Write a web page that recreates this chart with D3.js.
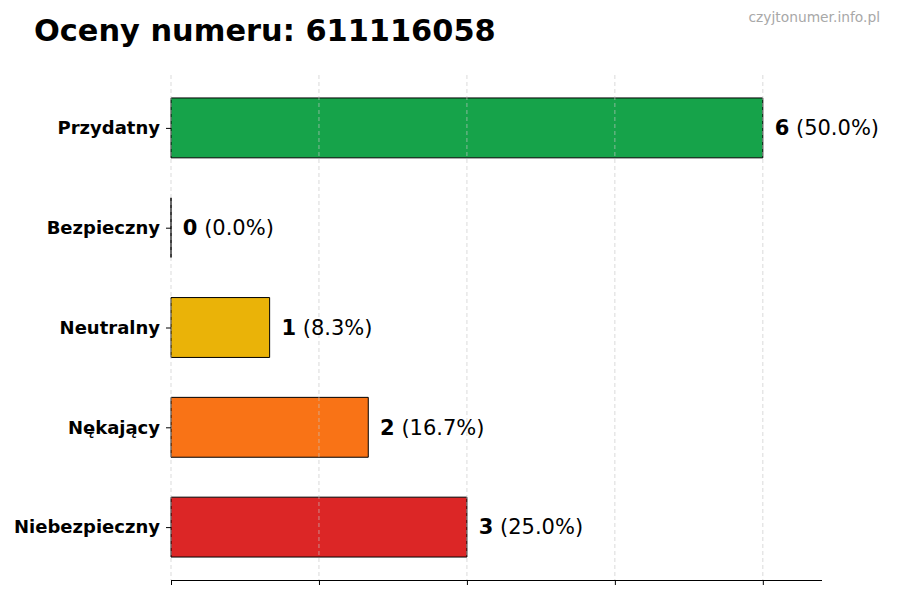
<!DOCTYPE html>
<html>
<head>
<meta charset="utf-8">
<script src="https://cdn.jsdelivr.net/npm/d3@7"></script>
<style>
  body { margin: 0; background: #fff; }
  svg { font-family: "DejaVu Sans", sans-serif; }
</style>
</head>
<body>
<svg id="chart" width="900" height="600"></svg>
<script>
// Chart data
const categories = ["Niebezpieczny", "Nękający", "Neutralny", "Bezpieczny", "Przydatny"];
const counts = [3, 2, 1, 0, 6];
const percents = ["25.0%", "16.7%", "8.3%", "0.0%", "50.0%"];
const barColors = ["#dc2626", "#f97316", "#eab308", "#9ca3af", "#16a34a"];
const xTicks = [0, 1.5, 3, 4.5, 6];

const svg = d3.select("#chart");

// Plot area
const plot = { left: 171, right: 822, top: 75, bottom: 580 };

const xScale = d3.scaleLinear()
    .domain([0, 6.6])
    .range([plot.left, plot.right]);

const yScale = d3.scaleLinear()
    .domain([-0.53, 4.53])
    .range([plot.bottom, plot.top]);

// Bars as paths so a zero bar still shows its edge
svg.append("g")
    .selectAll("path")
    .data(categories)
    .join("path")
    .attr("d", (d, i) => {
        const x0 = xScale(0), x1 = xScale(counts[i]);
        const y0 = yScale(i + 0.3), y1 = yScale(i - 0.3);
        return `M${x0},${y0}H${x1}V${y1}H${x0}Z`;
    })
    .attr("fill", (d, i) => barColors[i])
    .attr("stroke", "#000")
    .attr("stroke-width", 1);

// Grid lines on top of bars
svg.append("g")
    .selectAll("line")
    .data(xTicks)
    .join("line")
    .attr("x1", d => xScale(d))
    .attr("x2", d => xScale(d))
    .attr("y1", plot.top)
    .attr("y2", plot.bottom)
    .attr("stroke", "#c8c8c8")
    .attr("stroke-width", 0.8)
    .attr("stroke-dasharray", "4,3")
    .attr("opacity", 0.8);

// X axis: ticks, no labels
const xAxis = d3.axisBottom(xScale)
    .tickValues(xTicks)
    .tickSize(5)
    .tickFormat("");
const gx = svg.append("g")
    .attr("transform", `translate(0, ${plot.bottom})`)
    .call(xAxis);
gx.select(".domain").attr("stroke", "#000").attr("stroke-width", 1)
    .attr("d", `M${plot.left},0.5H${plot.right}`);
gx.selectAll(".tick line").attr("stroke", "#000");

// Y axis: category labels, no spine
const yAxis = d3.axisLeft(yScale)
    .tickValues(d3.range(categories.length))
    .tickSize(5)
    .tickPadding(6)
    .tickFormat(i => categories[i]);
const gy = svg.append("g")
    .attr("transform", `translate(${plot.left}, 0)`)
    .call(yAxis);
gy.select(".domain").remove();
gy.selectAll(".tick line").attr("stroke", "#000");
gy.selectAll(".tick text")
    .attr("font-family", "DejaVu Sans, sans-serif")
    .attr("font-size", 18)
    .attr("font-weight", "bold")
    .attr("fill", "#000");

// Value labels
const labels = svg.append("g")
    .selectAll("text")
    .data(categories)
    .join("text")
    .attr("x", (d, i) => xScale(counts[i] + 0.12))
    .attr("y", (d, i) => yScale(i))
    .attr("dy", "0.35em")
    .attr("font-size", 21)
    .attr("fill", "#000");
labels.append("tspan")
    .attr("font-weight", "bold")
    .text((d, i) => counts[i]);
labels.append("tspan")
    .text((d, i) => ` (${percents[i]})`);

// Title
svg.append("text")
    .attr("x", 34)
    .attr("y", 41)
    .attr("font-size", 30.4)
    .attr("font-weight", "bold")
    .attr("fill", "#000")
    .text("Oceny numeru: 611116058");

// Watermark
svg.append("text")
    .attr("x", 880)
    .attr("y", 22)
    .attr("text-anchor", "end")
    .attr("font-size", 13.8)
    .attr("fill", "#a8a8a8")
    .text("czyjtonumer.info.pl");
</script>
</body>
</html>
